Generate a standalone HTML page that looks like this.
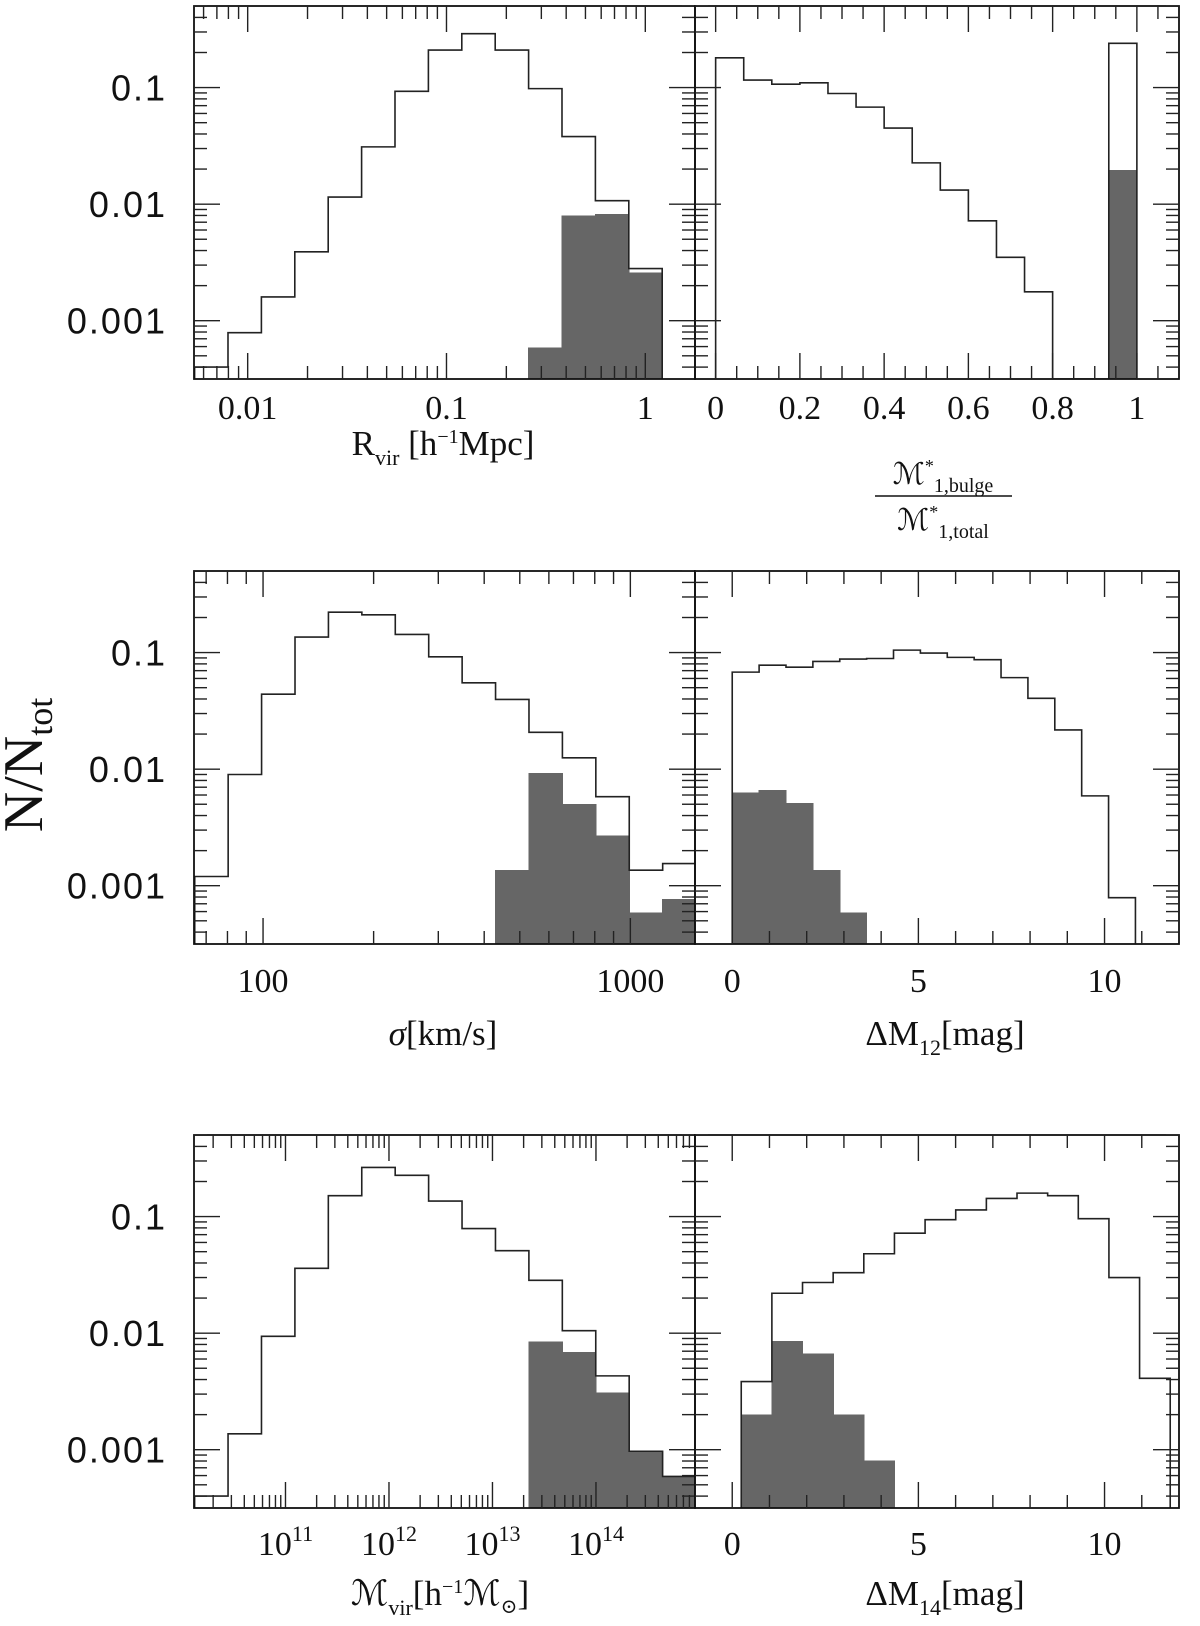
<!DOCTYPE html>
<html><head><meta charset="utf-8">
<style>
html,body{margin:0;padding:0;background:#fff;}
svg{display:block;}
.yt{font-family:"Liberation Sans",sans-serif;font-size:36px;fill:#111;letter-spacing:2px;}
.xt{font-family:"Liberation Serif",serif;font-size:34px;fill:#111;}
.tt{font-family:"Liberation Serif","DejaVu Serif",serif;font-size:35px;fill:#111;}
</style></head>
<body>
<svg id="fig" width="1200" height="1626" viewBox="0 0 1200 1626" xmlns="http://www.w3.org/2000/svg">
  <g id="layer-grey"></g>
  <g id="layer-line"></g>
  <g id="layer-axes"></g>

  <text class="tt" x="42" y="765" text-anchor="middle" style="font-size:56px" transform="rotate(-90 42 765)">N/N<tspan style="font-size:36px" dy="10">tot</tspan></text>

  <text class="tt" x="443" y="455" text-anchor="middle">R<tspan style="font-size:22px" dy="10">vir</tspan><tspan dy="-10"> [h</tspan><tspan style="font-size:20px" dy="-12">−1</tspan><tspan dy="12">Mpc]</tspan></text>

  <g>
    <text class="tt" x="943" y="484" text-anchor="middle" style="font-size:30px">ℳ<tspan style="font-size:18px" dy="-12">*</tspan><tspan style="font-size:20px" dy="20">1,bulge</tspan></text>
    <line x1="875" y1="496" x2="1012" y2="496" stroke="#111" stroke-width="1.5"/>
    <text class="tt" x="943" y="530" text-anchor="middle" style="font-size:30px">ℳ<tspan style="font-size:18px" dy="-12">*</tspan><tspan style="font-size:20px" dy="20">1,total</tspan></text>
  </g>

  <text class="tt" x="443" y="1045" text-anchor="middle"><tspan font-style="italic">σ</tspan>[km/s]</text>
  <text class="tt" x="945" y="1045" text-anchor="middle">ΔM<tspan style="font-size:22px" dy="10">12</tspan><tspan dy="-10">[mag]</tspan></text>
  <text class="tt" x="440" y="1605" text-anchor="middle">ℳ<tspan style="font-size:22px" dy="10">vir</tspan><tspan dy="-10">[h</tspan><tspan style="font-size:20px" dy="-12">−1</tspan><tspan dy="12">ℳ</tspan><tspan style="font-size:20px" dy="8">⊙</tspan><tspan dy="-8">]</tspan></text>
  <text class="tt" x="945" y="1605" text-anchor="middle">ΔM<tspan style="font-size:22px" dy="10">14</tspan><tspan dy="-10">[mag]</tspan></text>
</svg>

<script>
// ---- data ----
const yTickValues = [0.1, 0.01, 0.001];
const yTickLabels = ["0.1", "0.01", "0.001"];

const rvirLogEdges = [-2.267,-2.099,-1.931,-1.763,-1.595,-1.427,-1.259,-1.091,-0.923,-0.755,-0.587,-0.419,-0.251,-0.083,0.085];
const rvirAll = [0.0004,0.00079,0.0016,0.0039,0.0115,0.031,0.093,0.21,0.29,0.21,0.098,0.038,0.0107,0.0028];
const rvirSub = [0,0,0,0,0,0,0,0,0,0,0.00059,0.0080,0.0082,0.0026];
const rvirTickLabels = ["0.01","0.1","1"];

const bulgeEdges = [0,1/15,2/15,3/15,4/15,5/15,6/15,7/15,8/15,9/15,10/15,11/15,12/15,13/15,14/15,1];
const bulgeAll = [0.18,0.116,0.107,0.110,0.089,0.068,0.045,0.0226,0.0132,0.0072,0.0035,0.00177,0,0,0.24];
const bulgeSub = [0,0,0,0,0,0,0,0,0,0,0,0,0,0,0.0197];
const bulgeTickLabels = ["0","0.2","0.4","0.6","0.8","1"];

const sigmaLogEdges = [1.814,1.905,1.996,2.087,2.178,2.269,2.360,2.451,2.542,2.633,2.724,2.815,2.906,2.997,3.088,3.179];
const sigmaAll = [0.0012,0.009,0.044,0.136,0.222,0.211,0.143,0.092,0.055,0.0396,0.0207,0.0125,0.0058,0.00136,0.00155];
const sigmaSub = [0,0,0,0,0,0,0,0,0,0.00136,0.0093,0.0050,0.0027,0.00059,0.00077];
const sigmaTickLabels = ["100","1000"];

const dm12Edges = [0,0.722,1.444,2.166,2.888,3.61,4.332,5.054,5.776,6.498,7.22,7.942,8.664,9.386,10.108,10.83];
const dm12All = [0.068,0.078,0.075,0.084,0.088,0.089,0.105,0.099,0.091,0.087,0.061,0.0405,0.0217,0.0059,0.00079];
const dm12Sub = [0.0063,0.0066,0.0051,0.00136,0.00059,0,0,0,0,0,0,0,0,0,0];
const dmTickLabels = ["0","5","10"];

const mvirLogEdges = [10.122,10.445,10.768,11.091,11.414,11.737,12.06,12.383,12.706,13.029,13.352,13.675,13.998,14.321,14.644,14.967];
const mvirAll = [0.0004,0.00137,0.0094,0.036,0.151,0.264,0.226,0.136,0.079,0.051,0.0284,0.0105,0.0043,0.00097,0.00059];
const mvirSub = [0,0,0,0,0,0,0,0,0,0,0.0085,0.0069,0.0031,0.00097,0.00059];
const mvirTickExps = ["11","12","13","14"];

const dm14Edges = [0.242,1.065,1.888,2.711,3.534,4.357,5.18,6.003,6.826,7.649,8.472,9.295,10.118,10.941,11.764];
const dm14All = [0.00384,0.022,0.0272,0.033,0.048,0.072,0.094,0.114,0.143,0.159,0.151,0.096,0.030,0.0041];
const dm14Sub = [0.0020,0.0086,0.0067,0.0020,0.00081,0,0,0,0,0,0,0,0,0];

// ---- layout ----
const NS = "http://www.w3.org/2000/svg";
const LX = [194, 695], RX = [695, 1179];
const ROWS = [[6,379],[571,944],[1135,1508]];
const YDOM = [-3.5, -0.3];
const gGrey = document.getElementById('layer-grey');
const gLine = document.getElementById('layer-line');
const gAx = document.getElementById('layer-axes');
const svg = document.getElementById('fig');

function mk(tag, attrs, parent){
  const e = document.createElementNS(NS, tag);
  for (const k in attrs) e.setAttribute(k, attrs[k]);
  parent.appendChild(e);
  return e;
}
function linScale(d0,d1,r0,r1){ return v => r0 + (v-d0)/(d1-d0)*(r1-r0); }

function makePanel(name, xr, row, xdom, isLog){
  const [top,bot] = ROWS[row];
  const sx = linScale(xdom[0], xdom[1], xr[0], xr[1]);
  const syLog = linScale(YDOM[0], YDOM[1], bot, top);
  const sy = v => v > 0 ? Math.min(bot, Math.max(top, syLog(Math.log10(v)))) : bot;
  const clipId = 'clip-' + name;
  const cp = mk('clipPath', {id: clipId}, svg);
  mk('rect', {x: xr[0], y: top, width: xr[1]-xr[0], height: bot-top}, cp);
  return {name, xr, top, bot, sx, sy, syLog, clipId, isLog};
}

function drawHist(p, edges, all, sub){
  for (let i = 0; i < sub.length; i++){
    if (sub[i] <= 0) continue;
    const x0 = p.sx(edges[i]), x1 = p.sx(edges[i+1]), y = p.sy(sub[i]);
    const r = mk('rect', {x: x0 - 0.6, y: y, width: x1 - x0 + 1.2, height: p.bot-y, fill:'#666', 'shape-rendering':'crispEdges', 'clip-path':'url(#'+p.clipId+')'}, gGrey);
    
    
  }
  let d = 'M' + p.sx(edges[0]) + ',' + p.bot;
  for (let i = 0; i < all.length; i++){
    const y = p.sy(all[i]);
    d += ' L' + p.sx(edges[i]) + ',' + y + ' L' + p.sx(edges[i+1]) + ',' + y;
  }
  d += ' L' + p.sx(edges[all.length]) + ',' + p.bot;
  const path = mk('path', {d: d, fill:'none', stroke:'#222', 'stroke-width':1.6, 'clip-path':'url(#'+p.clipId+')'}, gLine);
  
  
}

function tick(x1,y1,x2,y2){
  mk('line', {x1,y1,x2,y2, stroke:'#222', 'stroke-width':1.4}, gAx);
}

function drawFrame(p, leftLabels){
  const r = mk('rect', {x: p.xr[0], y: p.top, width: p.xr[1]-p.xr[0], height: p.bot-p.top, fill:'none', stroke:'#111', 'stroke-width':1.8}, gAx);
  
  
  for (let dec = -4; dec <= 0; dec++){
    for (let m = 1; m <= 9; m++){
      const lv = dec + Math.log10(m);
      if (lv < YDOM[0] || lv > YDOM[1]) continue;
      const y = p.syLog(lv);
      const L = m === 1 ? 26 : 13;
      tick(p.xr[0], y, p.xr[0]+L, y);
      tick(p.xr[1], y, p.xr[1]-L, y);
    }
  }
  if (leftLabels){
    for (let i = 0; i < yTickValues.length; i++){
      const t = mk('text', {x: 167, y: p.syLog(Math.log10(yTickValues[i])) + 13, 'text-anchor':'end', class:'yt'}, svg);
      t.textContent = yTickLabels[i];
      
      
    }
  }
}

function xTick(p, v, major){
  const x = p.sx(v);
  if (x < p.xr[0]-0.5 || x > p.xr[1]+0.5) return;
  const L = major ? 26 : 13;
  tick(x, p.bot, x, p.bot-L);
  tick(x, p.top, x, p.top+L);
}
function xLabel(p, v, txt, base){
  const t = mk('text', {x: p.sx(v), y: p.bot + base, 'text-anchor':'middle', class:'xt'}, svg);
  t.textContent = txt;
  
  
  return t;
}
function logTicks(p, d0, d1){
  for (let dec = d0; dec <= d1; dec++)
    for (let m = 1; m <= 9; m++) xTick(p, dec + Math.log10(m), m === 1);
}
function linTicks(p, a, b, step, majorEvery){
  for (let k = 0; a + k*step <= b + 1e-9; k++) xTick(p, a + k*step, k % majorEvery === 0);
}

// ---- panels ----
const pTL = makePanel('rvir', LX, 0, [-2.27, 0.25], true);
drawHist(pTL, rvirLogEdges, rvirAll, rvirSub);
drawFrame(pTL, true);
logTicks(pTL, -3, 0);
[-2,-1,0].forEach((v,i) => xLabel(pTL, v, rvirTickLabels[i], 40));

const pTR = makePanel('bulge', RX, 0, [-0.049, 1.1], false);
drawHist(pTR, bulgeEdges, bulgeAll, bulgeSub);
drawFrame(pTR, false);
linTicks(pTR, 0, 1.05, 0.05, 4);
[0,0.2,0.4,0.6,0.8,1].forEach((v,i) => xLabel(pTR, v, bulgeTickLabels[i], 40));

const pML = makePanel('sigma', LX, 1, [1.812, 3.176], true);
drawHist(pML, sigmaLogEdges, sigmaAll, sigmaSub);
drawFrame(pML, true);
logTicks(pML, 1, 3);
[2,3].forEach((v,i) => xLabel(pML, v, sigmaTickLabels[i], 48));

const pMR = makePanel('dm12', RX, 1, [-1, 12], false);
drawHist(pMR, dm12Edges, dm12All, dm12Sub);
drawFrame(pMR, false);
linTicks(pMR, 0, 11, 1, 5);
[0,5,10].forEach((v,i) => xLabel(pMR, v, dmTickLabels[i], 48));

const pBL = makePanel('mvir', LX, 2, [10.116, 14.957], true);
drawHist(pBL, mvirLogEdges, mvirAll, mvirSub);
drawFrame(pBL, true);
logTicks(pBL, 10, 14);
[11,12,13,14].forEach((v,i) => {
  const t = xLabel(pBL, v, '10', 47);
  const s = document.createElementNS(NS, 'tspan');
  s.setAttribute('style', 'font-size:22px');
  s.setAttribute('dy', '-14');
  s.textContent = mvirTickExps[i];
  t.appendChild(s);
});

const pBR = makePanel('dm14', RX, 2, [-1, 12], false);
drawHist(pBR, dm14Edges, dm14All, dm14Sub);
drawFrame(pBR, false);
linTicks(pBR, 0, 11, 1, 5);
[0,5,10].forEach((v,i) => xLabel(pBR, v, dmTickLabels[i], 47));
</script>
</body></html>
